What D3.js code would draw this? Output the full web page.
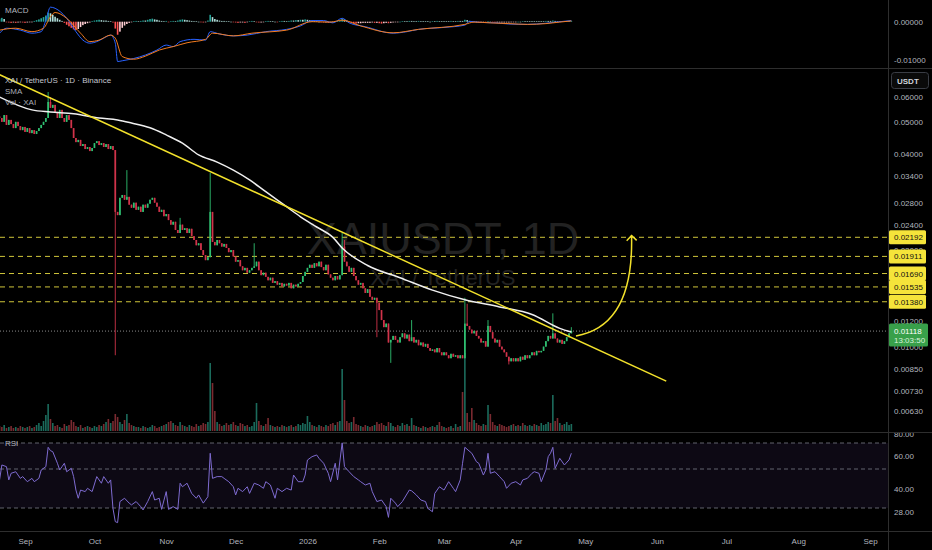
<!DOCTYPE html>
<html>
<head>
<meta charset="utf-8">
<script src="https://cdn.jsdelivr.net/npm/d3@7"></script>
<style>
  html, body { margin: 0; background: #000; }
  svg { display: block; font-family: "Liberation Sans", Arial, sans-serif; }
</style>
</head>
<body>
<svg id="chart" width="932" height="550"></svg>
<script>
// daily candles, first one is 21 Aug 2025
const startDay = Date.UTC(2025, 7, 21);
const firstOpen = 0.0522;

const closes = [
  0.0516,0.0502,0.0527,0.0491,0.0509,0.0494,0.0480,0.0502,0.0487,0.0473,
  0.0484,0.0467,0.0480,0.0463,0.0473,0.0460,0.0470,0.0480,0.0491,0.0502,
  0.0516,0.0579,0.0555,0.0567,0.0539,0.0516,0.0547,0.0516,0.0502,0.0527,
  0.0509,0.0480,0.0447,0.0434,0.0441,0.0422,0.0428,0.0413,0.0419,0.0407,
  0.0416,0.0431,0.0437,0.0425,0.0431,0.0419,0.0428,0.0413,0.0422,0.0410,
  0.0263,0.0257,0.0291,0.0297,0.0287,0.0293,0.0277,0.0271,0.0281,0.0267,
  0.0273,0.0263,0.0277,0.0271,0.0279,0.0287,0.0291,0.0281,0.0273,0.0263,
  0.0267,0.0255,0.0259,0.0248,0.0240,0.0245,0.0231,0.0226,0.0240,0.0231,
  0.0234,0.0226,0.0233,0.0221,0.0215,0.0207,0.0210,0.0200,0.0193,0.0186,
  0.0190,0.0263,0.0212,0.0207,0.0215,0.0210,0.0205,0.0209,0.0203,0.0197,
  0.0200,0.0191,0.0184,0.0186,0.0178,0.0173,0.0176,0.0170,0.0173,0.0176,
  0.0178,0.0184,0.0173,0.0167,0.0170,0.0165,0.0161,0.0164,0.0158,0.0160,
  0.0156,0.0158,0.0154,0.0157,0.0155,0.0158,0.0152,0.0156,0.0154,0.0157,
  0.0159,0.0166,0.0171,0.0176,0.0180,0.0176,0.0182,0.0178,0.0184,0.0177,
  0.0173,0.0180,0.0168,0.0164,0.0161,0.0166,0.0162,0.0167,0.0205,0.0184,
  0.0178,0.0171,0.0176,0.0166,0.0161,0.0156,0.0158,0.0152,0.0147,0.0151,
  0.0143,0.0140,0.0142,0.0137,0.0130,0.0121,0.0115,0.0118,0.0103,0.0105,
  0.0108,0.0105,0.0103,0.0107,0.0110,0.0106,0.0109,0.0104,0.0107,0.0103,
  0.0105,0.0101,0.0103,0.0100,0.0102,0.0099,0.0097,0.0098,0.0096,0.0099,
  0.0096,0.0094,0.0096,0.0094,0.0092,0.0095,0.0093,0.0094,0.0092,0.0094,
  0.0092,0.0118,0.0116,0.0113,0.0110,0.0112,0.0108,0.0106,0.0103,0.0104,
  0.0100,0.0116,0.0111,0.0106,0.0103,0.0105,0.0100,0.0098,0.0096,0.0093,
  0.0090,0.0092,0.0090,0.0092,0.0090,0.0093,0.0091,0.0094,0.0092,0.0094,
  0.0096,0.0094,0.0097,0.0096,0.0097,0.0100,0.0104,0.0108,0.0106,0.0110,
  0.0106,0.0103,0.0105,0.0102,0.0104,0.0107,0.0110,0.01118
];

// [day index, high, low] for the visible wicks
const wicks = [
  [21,0.0622,null],[22,0.0600,null],[50,null,0.0094],[55,0.0355,null],
  [78,0.0252,null],[91,0.0348,null],[110,0.0210,null],[148,0.0226,null],
  [149,0.0215,null],[163,null,0.0107],[169,null,0.0089],[178,0.0121,null],
  [201,0.0142,null],[202,0.0136,null],[211,0.0121,null],[220,null,0.0088],
  [239,0.0127,null],[247,0.0115,null]
];

// volume, millions XAI
const volumes = [
  5,4,6,3,4,5,3,4,3,5, 4,3,4,5,3,4,6,8,5,10, 16,27,12,8,5,6,4,3,7,5,
  6,11,9,5,4,6,3,4,5,4, 3,5,4,6,5,7,9,12,8,10, 17,14,9,7,11,17,8,6,5,4,
  4,3,5,4,3,4,6,5,3,4, 5,6,7,9,10,8,6,5,9,6, 5,4,6,5,4,7,5,6,8,7,
  9,68,48,20,9,7,5,6,8,6, 7,9,6,5,8,7,5,6,4,5, 9,28,10,6,5,7,13,6,5,4,
  5,4,6,5,4,5,6,4,5,7, 6,8,7,15,9,6,5,4,6,5, 4,6,5,7,8,6,9,10,62,31,
  10,8,9,14,7,6,5,4,6,5, 4,5,6,9,7,8,6,5,9,8, 5,4,6,5,8,6,7,5,13,6,
  5,4,3,5,4,3,4,5,4,6, 9,5,4,3,4,5,3,7,4,5, 39,78,18,9,23,11,8,6,5,7,
  6,26,17,9,6,5,7,6,5,4, 5,6,7,5,6,5,8,6,5,6, 5,7,6,5,8,6,7,9,8,36,
  10,13,8,6,7,9,6,7
];

const smaPoints = [
  [0,0.0600],[14,0.0547],[22,0.0539],[32,0.0532],[43,0.0516],[51,0.0509],
  [57,0.0498],[65,0.0481],[72,0.0457],[79,0.0431],[86,0.0396],[94,0.0376],
  [101,0.0355],[108,0.0331],[115,0.0304],[124,0.0273],[130,0.0254],[137,0.0236],
  [144,0.0219],[148,0.0203],[159,0.0179],[173,0.0164],[187,0.0150],[201,0.0140],
  [216,0.0133],[230,0.0126],[242,0.0114],[247,0.0111]
];

// MACD values in thousandths
const macdPoints = [
  [0,-3.0],[3,-1.7],[9,-2.2],[14,-3.0],[18,-2.6],[20,0.4],[22,3.8],[24,3.5],
  [29,0.9],[33,-2.6],[36,-4.8],[39,-5.6],[42,-5.2],[45,-4.3],[48,-3.5],[50,-5.6],
  [51,-10.4],[53,-10.2],[58,-9.6],[63,-8.7],[68,-7.4],[72,-6.1],[75,-6.5],[78,-5.2],
  [84,-4.6],[89,-4.8],[91,-2.6],[95,-3.2],[101,-3.7],[107,-3.5],[115,-2.6],[124,-2.0],
  [130,-1.1],[135,0.3],[140,0.3],[144,-0.3],[148,0.9],[151,-0.3],[158,-1.3],[170,-3.0],
  [176,-2.6],[181,-2.0],[192,-1.5],[201,-0.9],[203,0.1],[208,-0.2],[214,-0.3],[220,-0.6],
  [228,-0.7],[236,-0.4],[242,0.0],[247,0.3]
];
const signalPoints = [
  [0,-2.2],[7,-1.7],[14,-2.6],[19,-1.7],[22,1.3],[24,2.4],[29,0.9],[35,-3.0],
  [39,-5.2],[43,-4.8],[48,-3.5],[50,-4.3],[53,-9.1],[58,-9.8],[63,-9.0],[69,-7.4],
  [75,-6.5],[81,-5.5],[89,-4.6],[92,-3.0],[101,-3.7],[109,-3.0],[124,-2.2],[135,0.0],
  [143,-0.1],[148,0.4],[156,-1.1],[170,-2.9],[181,-2.0],[201,-0.7],[205,-0.1],[212,-0.3],
  [220,-0.5],[228,-0.7],[236,-0.5],[242,-0.1],[247,0.2]
];
const histValues = [
  0.8,1.0,0.7,-0.1,-0.2,-0.3,-0.2,-0.3,-0.2,-0.1,
  -0.2,-0.3,-0.2,-0.1,-0.1,0.2,0.4,0.6,0.9,1.2,
  1.6,2.4,2.2,1.8,1.3,0.9,0.5,0.2,-0.3,-0.8,
  -1.2,-1.6,-2.0,-2.2,-1.9,-1.4,-0.9,-0.6,-0.4,-0.2,
  0.1,0.3,0.4,0.5,0.4,0.3,0.3,0.2,0.1,-0.2,
  -1.8,-3.4,-2.6,-1.6,-1.0,-0.6,-0.3,-0.1,0.1,0.2,
  0.1,0.2,0.3,0.3,0.5,0.7,0.8,0.6,0.5,0.3,
  0.2,0.1,0.2,-0.1,0.1,0.2,0.1,0.3,0.5,0.6,
  0.5,0.4,0.3,0.2,0.1,0.1,0.0,-0.1,-0.2,-0.1,
  0.3,1.8,1.2,0.7,0.5,0.3,0.2,0.2,0.1,0.1,
  0.0,-0.1,-0.2,-0.3,-0.2,-0.2,-0.3,-0.1,0.1,0.2,
  0.1,-0.1,-0.2,-0.2,-0.1,0.1,0.2,0.1,0.1,0.0,
  -0.1,0.1,0.2,0.2,0.1,0.2,0.3,0.3,0.4,0.4,
  0.5,0.5,0.6,0.5,0.4,0.3,0.2,0.1,0.0,-0.1,
  -0.2,-0.2,-0.3,-0.2,-0.1,0.1,0.2,0.3,0.8,0.6,
  0.3,-0.1,-0.3,-0.4,-0.5,-0.4,-0.4,-0.3,-0.3,-0.3,
  -0.3,-0.2,-0.3,-0.3,-0.4,-0.5,-0.4,-0.3,-0.4,-0.3,
  -0.2,-0.1,-0.1,0.0,0.1,0.1,0.1,0.2,0.2,0.1,
  0.1,0.2,0.1,0.1,0.1,0.1,0.0,0.1,0.1,0.2,
  0.1,0.1,0.1,0.1,0.1,0.2,0.1,0.1,0.2,0.2,
  0.2,0.5,0.4,0.2,0.1,-0.1,-0.1,-0.2,-0.2,-0.1,
  -0.2,0.1,0.0,-0.1,-0.2,-0.2,-0.2,-0.2,-0.2,-0.2,
  -0.2,-0.1,-0.1,-0.1,0.0,0.0,0.1,0.1,0.1,0.1,
  0.1,0.1,0.1,0.1,0.1,0.1,0.2,0.2,0.2,0.3,
  0.2,0.1,0.1,0.1,0.1,0.1,0.1,0.2
];

const rsiPoints = [
  [0,44.4],[1,53.1],[3,51.8],[4,44.4],[5,47.8],[7,48.6],[9,45.2],[10,46.1],[12,43.5],
  [14,45.2],[15,43.5],[17,45.2],[18,49.5],[20,51.8],[21,66.7],[22,64.1],[23,63.3],
  [25,54.4],[26,49.5],[27,51.8],[28,54.4],[29,48.6],[31,50.5],[32,46.1],[33,39.2],
  [34,35.0],[35,39.2],[37,38.4],[38,40.1],[40,38.4],[42,46.1],[44,42.7],[45,46.1],
  [47,42.7],[48,44.4],[49,29.8],[50,23.0],[51,22.5],[52,33.3],[54,35.0],[56,32.5],
  [57,31.6],[59,33.3],[61,30.7],[62,29.0],[64,33.3],[66,38.4],[67,34.1],[69,35.0],
  [70,29.3],[72,38.4],[73,29.3],[75,30.7],[77,29.3],[78,42.7],[79,40.9],[81,42.7],
  [83,37.5],[85,35.0],[86,36.7],[88,32.5],[90,35.8],[91,62.1],[92,45.2],[94,46.1],
  [96,46.1],[97,45.2],[99,43.5],[101,40.9],[102,36.7],[103,40.1],[105,38.4],[107,40.9],
  [108,37.5],[110,42.7],[112,41.8],[114,40.1],[115,43.5],[117,41.8],[119,35.0],[120,40.1],
  [122,38.4],[124,40.1],[126,39.2],[127,46.9],[129,43.5],[131,43.5],[132,46.9],[133,56.9],
  [135,59.5],[137,60.8],[138,58.2],[140,54.4],[142,47.8],[143,43.5],[145,54.4],[146,44.4],
  [148,70.2],[149,51.8],[151,48.6],[153,46.1],[155,44.4],[156,43.5],[158,41.8],[160,42.7],
  [161,38.4],[163,33.3],[165,34.1],[167,30.7],[168,25.2],[169,35.0],[171,32.5],[172,30.7],
  [174,33.3],[177,39.2],[178,38.8],[180,36.7],[182,34.1],[184,33.3],[185,29.8],[187,28.1],
  [188,37.5],[190,40.9],[192,39.2],[194,43.5],[196,40.1],[197,38.4],[199,44.4],[200,54.4],
  [201,66.7],[204,62.1],[206,55.6],[207,54.4],[209,46.9],[210,49.5],[211,62.1],[212,47.8],
  [214,48.6],[216,46.1],[218,43.5],[219,40.1],[221,42.7],[223,43.5],[225,41.8],[226,44.4],
  [228,45.2],[230,47.8],[231,48.6],[233,47.8],[234,43.5],[236,49.5],[237,59.5],[238,62.1],
  [239,66.7],[240,50.5],[242,58.2],[244,53.1],[246,57.0],[247,62.1]
];

const levels = [0.02192, 0.01911, 0.01690, 0.01535, 0.01380];
const priceTicks = [0.06, 0.05, 0.04, 0.034, 0.028, 0.024, 0.02, 0.012, 0.01, 0.0085, 0.0073, 0.0063];
const macdTicks = [0, -0.01];
const rsiTicks = [80, 60, 40, 28];
const rsiLevels = [70, 50, 30];
const monthLabels = ["Sep","Oct","Nov","Dec","2026","Feb","Mar","Apr","May","Jun","Jul","Aug","Sep"];
const lastPrice = 0.01118;
const countdown = "13:03:50";

// drawings: [date, price]
const trendline = [["2025-08-21", 0.0704], ["2026-06-05", 0.00781]];
const arrowCurve = [["2026-04-27", 0.0108], ["2026-05-22", 0.0116], ["2026-05-21", 0.0222]];

const svg = d3.select("#chart");
const W = 932, H = 550, axisX = 888;
const day = i => new Date(startDay + i * 864e5);
const fmt5 = v => d3.format(".5f")(v).replace("\u2212", "-");

const x = d3.scaleUtc()
  .domain([new Date(Date.UTC(2025, 8, 1)), new Date(Date.UTC(2026, 8, 1))])
  .range([25, 870]);
const yPrice = d3.scaleLog().domain([0.06, 0.0063]).range([97, 411]);
const yVol = d3.scaleLinear().domain([0, 78]).range([431, 353]);
const yMacd = d3.scaleLinear().domain([0, -0.01]).range([21.7, 60]);
const yRsi = d3.scaleLinear().domain([80, 70, 50, 30]).range([434, 443, 469, 508]);

svg.append("rect").attr("width", W).attr("height", H).attr("fill", "#000");

const defs = svg.append("defs");
[["clipMacd", 0, 68], ["clipPrice", 69, 432], ["clipRsi", 433, 531]].forEach(function (c) {
  defs.append("clipPath").attr("id", c[0])
    .append("rect").attr("x", 0).attr("y", c[1]).attr("width", axisX).attr("height", c[2] - c[1]);
});
defs.append("clipPath").attr("id", "clipRsiAxis")
  .append("rect").attr("x", axisX).attr("y", 433).attr("width", W - axisX).attr("height", 98);
defs.append("marker").attr("id", "arrow")
  .attr("viewBox", "-6 -6 12 12").attr("markerWidth", 12).attr("markerHeight", 12)
  .attr("markerUnits", "userSpaceOnUse").attr("orient", "auto")
  .append("path").attr("d", "M-5,-5 L0,0 L-5,5")
  .attr("fill", "none").attr("stroke", "#f2e12b").attr("stroke-width", 1.5);

// ---------- candles ----------
const candles = closes.map(function (c, i) {
  const o = i === 0 ? firstOpen : closes[i - 1];
  return { i: i, date: day(i), open: o, close: c, high: Math.max(o, c), low: Math.min(o, c), vol: volumes[i] };
});
wicks.forEach(function (w) {
  if (w[1] != null) candles[w[0]].high = w[1];
  if (w[2] != null) candles[w[0]].low = w[2];
});

const UP = "#2fbf71", DOWN = "#d0334a";

// ---------- MACD pane ----------
const macdG = svg.append("g").attr("clip-path", "url(#clipMacd)");
svg.append("text").attr("x", 5).attr("y", 13).attr("fill", "#b2b5be").attr("font-size", 8).text("MACD");

macdG.selectAll("rect.hist").data(histValues).join("rect")
  .attr("class", "hist")
  .attr("x", (d, i) => x(day(i)) - 0.8)
  .attr("width", 1.6)
  .attr("y", d => Math.min(yMacd(0), yMacd(d / 1000)))
  .attr("height", d => Math.max(0.6, Math.abs(yMacd(d / 1000) - yMacd(0))))
  .attr("fill", function (d, i) {
    const prev = i ? histValues[i - 1] : 0;
    if (d >= 0) return d > prev ? "#26a69a" : "#b2dfdb";
    return d < prev ? "#ff5252" : "#ffcdd2";
  });

const macdLine = d3.line().x(d => x(day(d[0]))).y(d => yMacd(d[1] / 1000)).curve(d3.curveMonotoneX);
macdG.append("path").attr("d", macdLine(macdPoints)).attr("fill", "none").attr("stroke", "#2962ff").attr("stroke-width", 1);
macdG.append("path").attr("d", macdLine(signalPoints)).attr("fill", "none").attr("stroke", "#f57c1f").attr("stroke-width", 1);

// ---------- price pane ----------
const priceG = svg.append("g").attr("clip-path", "url(#clipPrice)");

priceG.append("text").attr("x", 443).attr("y", 254).attr("text-anchor", "middle")
  .attr("font-size", 45).attr("fill", "#222").text("XAIUSDT, 1D");
priceG.append("text").attr("x", 443).attr("y", 285).attr("text-anchor", "middle")
  .attr("font-size", 22).attr("fill", "#222").text("XAI / TetherUS");

priceG.selectAll("line.level").data(levels).join("line")
  .attr("class", "level")
  .attr("x1", 0).attr("x2", axisX)
  .attr("y1", d => yPrice(d)).attr("y2", d => yPrice(d))
  .attr("stroke", "#cfc53a").attr("stroke-width", 1).attr("stroke-dasharray", "5,4");

priceG.append("line")
  .attr("x1", 0).attr("x2", axisX)
  .attr("y1", yPrice(lastPrice)).attr("y2", yPrice(lastPrice))
  .attr("stroke", "#8a8a8a").attr("stroke-width", 1).attr("stroke-dasharray", "1,2");

priceG.selectAll("rect.vol").data(candles).join("rect")
  .attr("class", "vol")
  .attr("x", d => x(d.date) - 0.8)
  .attr("width", 1.6)
  .attr("y", d => yVol(d.vol))
  .attr("height", d => yVol(0) - yVol(d.vol))
  .attr("fill", d => d.close >= d.open ? "#1b6b5c" : "#7a2a30");

priceG.selectAll("line.wick").data(candles).join("line")
  .attr("class", "wick")
  .attr("x1", d => x(d.date)).attr("x2", d => x(d.date))
  .attr("y1", d => yPrice(d.high)).attr("y2", d => yPrice(d.low))
  .attr("stroke", d => d.close >= d.open ? UP : DOWN).attr("stroke-width", 0.9);

priceG.selectAll("rect.body").data(candles).join("rect")
  .attr("class", "body")
  .attr("x", d => x(d.date) - 0.85)
  .attr("width", 1.7)
  .attr("y", d => yPrice(Math.max(d.open, d.close)))
  .attr("height", d => Math.max(1, Math.abs(yPrice(d.open) - yPrice(d.close))))
  .attr("fill", d => d.close >= d.open ? UP : DOWN);

const priceLine = d3.line().x(d => x(day(d[0]))).y(d => yPrice(d[1])).curve(d3.curveMonotoneX);
priceG.append("path").attr("d", priceLine(smaPoints))
  .attr("fill", "none").attr("stroke", "#f0f0f0").attr("stroke-width", 1.5);

const drawLine = d3.line().x(d => x(new Date(d[0]))).y(d => yPrice(d[1]));
priceG.append("path").attr("d", drawLine(trendline))
  .attr("fill", "none").attr("stroke", "#f2e12b").attr("stroke-width", 1.5);

const a0 = arrowCurve[0], a1 = arrowCurve[1], a2 = arrowCurve[2];
const arc = d3.path();
arc.moveTo(x(new Date(a0[0])), yPrice(a0[1]));
arc.quadraticCurveTo(x(new Date(a1[0])), yPrice(a1[1]), x(new Date(a2[0])), yPrice(a2[1]));
svg.append("path").attr("d", arc.toString())
  .attr("fill", "none").attr("stroke", "#f2e12b").attr("stroke-width", 1.5)
  .attr("marker-end", "url(#arrow)");

const legend = svg.append("g").attr("font-size", 8).attr("fill", "#c3c6ce");
legend.append("text").attr("x", 5).attr("y", 83).text("XAI / TetherUS \u00b7 1D \u00b7 Binance");
legend.append("text").attr("x", 5).attr("y", 94).attr("fill", "#a8abb3").text("SMA");
legend.append("text").attr("x", 5).attr("y", 105).attr("fill", "#a8abb3").text("Vol \u00b7 XAI");

// ---------- RSI pane ----------
const rsiG = svg.append("g").attr("clip-path", "url(#clipRsi)");
rsiG.append("rect")
  .attr("x", 0).attr("width", axisX)
  .attr("y", yRsi(70)).attr("height", yRsi(30) - yRsi(70))
  .attr("fill", "#7e57c2").attr("fill-opacity", 0.1);
rsiG.selectAll("line.rl").data(rsiLevels).join("line")
  .attr("class", "rl")
  .attr("x1", 0).attr("x2", axisX)
  .attr("y1", d => yRsi(d)).attr("y2", d => yRsi(d))
  .attr("stroke", "#787b86").attr("stroke-dasharray", "4,3").attr("stroke-width", 0.8);
rsiG.append("path")
  .attr("d", d3.line().x(d => x(day(d[0]))).y(d => yRsi(d[1]))(rsiPoints))
  .attr("fill", "none").attr("stroke", "#7e6bd0").attr("stroke-width", 1);
svg.append("text").attr("x", 5).attr("y", 446).attr("fill", "#b2b5be").attr("font-size", 8).text("RSI");

// ---------- separators ----------
const sep = svg.append("g").attr("stroke", "#2e2e2e").attr("stroke-width", 1);
sep.append("line").attr("x1", 0).attr("x2", W).attr("y1", 68.5).attr("y2", 68.5);
sep.append("line").attr("x1", 0).attr("x2", W).attr("y1", 432.5).attr("y2", 432.5);
sep.append("line").attr("x1", 0).attr("x2", W).attr("y1", 531.5).attr("y2", 531.5);
sep.append("line").attr("x1", axisX + 0.5).attr("x2", axisX + 0.5).attr("y1", 0).attr("y2", H);

// ---------- axes ----------
function styleAxis(g) {
  g.select(".domain").remove();
  g.selectAll("text").attr("fill", "#b2b5be").attr("font-size", 8)
    .attr("font-family", "'Liberation Sans', Arial, sans-serif");
}
svg.append("g").attr("transform", `translate(${axisX},0)`)
  .call(d3.axisRight(yMacd).tickValues(macdTicks).tickFormat(fmt5).tickSize(0).tickPadding(6))
  .call(styleAxis);
svg.append("g").attr("transform", `translate(${axisX},0)`)
  .call(d3.axisRight(yPrice).tickValues(priceTicks).tickFormat(fmt5).tickSize(0).tickPadding(6))
  .call(styleAxis);
svg.append("g").attr("clip-path", "url(#clipRsiAxis)")
  .append("g").attr("transform", `translate(${axisX},0)`)
  .call(d3.axisRight(yRsi).tickValues(rsiTicks).tickFormat(d3.format(".2f")).tickSize(0).tickPadding(6))
  .call(styleAxis);

const monthDates = monthLabels.map((m, k) => new Date(Date.UTC(2025, 8 + k, 1)));
svg.append("g").attr("transform", "translate(0,532)")
  .call(d3.axisBottom(x).tickValues(monthDates).tickFormat((d, k) => monthLabels[k]).tickSize(0).tickPadding(6))
  .call(styleAxis);

// level labels
const lbl = svg.append("g");
lbl.selectAll("rect").data(levels).join("rect")
  .attr("x", axisX + 1).attr("y", d => yPrice(d) - 7).attr("width", 37).attr("height", 14)
  .attr("rx", 1.5).attr("fill", "#f5e43a");
lbl.selectAll("text").data(levels).join("text")
  .attr("x", axisX + 6).attr("y", d => yPrice(d) + 3)
  .attr("font-size", 8).attr("fill", "#111").text(fmt5);

const yl = yPrice(lastPrice);
svg.append("rect").attr("x", axisX + 1).attr("y", yl - 7.5).attr("width", 39).attr("height", 23)
  .attr("rx", 1.5).attr("fill", "#38a04a");
svg.append("text").attr("x", axisX + 6).attr("y", yl + 3).attr("font-size", 8).attr("fill", "#fff").text(fmt5(lastPrice));
svg.append("text").attr("x", axisX + 6).attr("y", yl + 12).attr("font-size", 8).attr("fill", "#d9f2dc").text(countdown);

// currency button
svg.append("rect").attr("x", 891.5).attr("y", 72.5).attr("width", 37).attr("height", 16)
  .attr("rx", 3).attr("fill", "#0a0a0a").attr("stroke", "#3a3d45");
svg.append("text").attr("x", 897).attr("y", 83.5).attr("font-size", 8).attr("font-weight", "bold")
  .attr("fill", "#d1d4dc").text("USDT");
</script>
</body>
</html>
